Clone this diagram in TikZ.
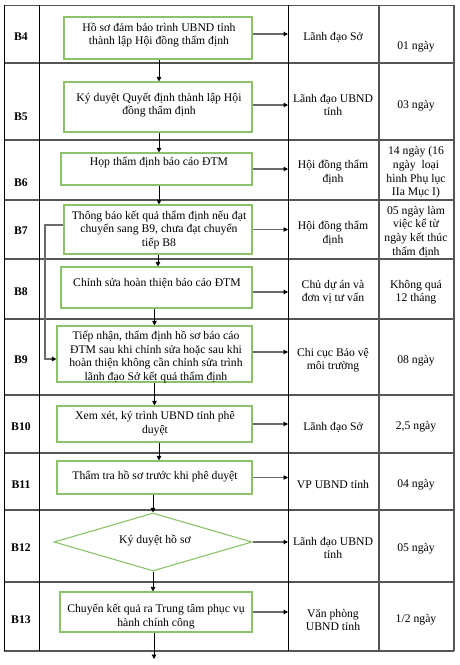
\documentclass[tikz,border=0pt]{standalone}
\usepackage{fontspec}
\setmainfont{Liberation Serif}
\usetikzlibrary{arrows.meta,shapes.geometric,calc}
\definecolor{boxgreen}{HTML}{8CC36A}
\definecolor{rowgray}{HTML}{555555}
\definecolor{arrgray}{HTML}{6A6A6A}
\begin{document}
\begin{tikzpicture}[x=1pt,y=-1pt,
  font=\fontsize{11.7}{13.6}\selectfont,
  stepbox/.style={draw=boxgreen,line width=1.1pt,rectangle,inner sep=0pt},
  txt/.style={align=center,inner sep=0pt},
  rowlbl/.style={font=\fontsize{11.7}{13.6}\selectfont\bfseries,inner sep=0pt},
  vline/.style={draw=black,line width=0.9pt},
  hline/.style={draw=rowgray,line width=1.3pt},
  varrow/.style={draw=black,line width=0.9pt,-{Triangle[length=4.5pt,width=4.5pt]}},
  harrow/.style={draw=arrgray,line width=1.4pt,-{Triangle[length=4.5pt,width=4.5pt,fill=black,color=black]}},
]
\useasboundingbox (0,0) rectangle (459,665);
% table
\foreach \y in {63,140,200,259,319,395,453,510,582}{\draw[hline] (4,\y) -- (454,\y);}
\draw[hline] (4,5.5) -- (454,5.5);
\draw[hline] (4,651) -- (454,651);
\draw[vline] (4,5) -- (4,651);
\draw[vline] (39,5) -- (39,651);
\draw[vline] (288,5) -- (288,651);
\draw[draw=rowgray,line width=1.3pt] (379,5) -- (379,651);
\draw[draw=rowgray,line width=1.3pt] (454,5) -- (454,651);
\coordinate (col3) at (288,0);

% row labels
\node[rowlbl] (r4) at (21,37) {B4};
\node[rowlbl] (r5) at (21,117) {B5};
\node[rowlbl] (r6) at (21,183) {B6};
\node[rowlbl] (r7) at (21,231) {B7};
\node[rowlbl] (r8) at (21,292) {B8};
\node[rowlbl] (r9) at (21,360) {B9};
\node[rowlbl] (r10) at (21,427) {B10};
\node[rowlbl] (r11) at (21,485) {B11};
\node[rowlbl] (r12) at (21,548) {B12};
\node[rowlbl] (r13) at (21,620) {B13};

% boxes
\node[stepbox,minimum width=188pt,minimum height=42pt] (b4) at (158,38) {};
\node[stepbox,minimum width=188pt,minimum height=50pt] (b5) at (158,107) {};
\node[stepbox,minimum width=191pt,minimum height=32pt] (b6) at (156.5,169) {};
\node[stepbox,minimum width=188pt,minimum height=49pt] (b7) at (158,229.5) {};
\node[stepbox,minimum width=191pt,minimum height=41pt] (b8) at (156.5,287.5) {};
\node[stepbox,minimum width=195pt,minimum height=56pt] (b9) at (154.5,354) {};
\node[stepbox,minimum width=195pt,minimum height=36pt] (b10) at (154.5,424) {};
\node[stepbox,minimum width=195pt,minimum height=33pt] (b11) at (154.5,477.5) {};
\node[draw=boxgreen,line width=1.1pt,diamond,inner sep=0pt,minimum width=198pt,minimum height=58pt] (b12) at (153,542) {};
\node[stepbox,minimum width=192pt,minimum height=40pt] (b13) at (156,612) {};

% box texts
\node[txt] (t4) at (159,35) {Hồ sơ đảm bảo trình UBND tỉnh\\thành lập Hội đồng thẩm định};
\node[txt] (t5) at (159,105) {Ký duyệt Quyết định thành lập Hội\\đồng thẩm định};
\node[txt] (t6) at (159,163) {Họp thẩm định báo cáo ĐTM};
\node[txt] (t7) at (159,230) {Thông báo kết quả thẩm định nếu đạt\\chuyển sang B9, chưa đạt chuyển\\tiếp B8};
\node[txt] (t8) at (157,283) {Chỉnh sửa hoàn thiện báo cáo ĐTM};
\node[txt] (t9) at (156,357) {Tiếp nhận, thẩm định hồ sơ báo cáo\\ĐTM sau khi chỉnh sửa hoặc sau khi\\hoàn thiện không cần chỉnh sửa trình\\lãnh đạo Sở kết quả thẩm định};
\node[txt] (t10) at (155,423.5) {Xem xét, ký trình UBND tỉnh phê\\duyệt};
\node[txt] (t11) at (155,477) {Thẩm tra hồ sơ trước khi phê duyệt};
\node[txt] (t12) at (155,541) {Ký duyệt hồ sơ};
\node[txt] (t13) at (156,616.5) {Chuyển kết quả ra Trung tâm phục vụ\\hành chính công};

% column 3
\node[txt] (c4) at (333,37) {Lãnh đạo Sở};
\node[txt] (c5) at (333,105) {Lãnh đạo UBND\\tỉnh};
\node[txt] (c6) at (333,172) {Hội đồng thẩm\\định};
\node[txt] (c7) at (333,233) {Hội đồng thẩm\\định};
\node[txt] (c8) at (333,292) {Chủ dự án và\\đơn vị tư vấn};
\node[txt] (c9) at (333,360) {Chi cục Bảo vệ\\môi trường};
\node[txt] (c10) at (333,427) {Lãnh đạo Sở};
\node[txt] (c11) at (333,485) {VP UBND tỉnh};
\node[txt] (c12) at (333,548) {Lãnh đạo UBND\\tỉnh};
\node[txt] (c13) at (333,620) {Văn phòng\\UBND tỉnh};

% column 4
\node[txt] (d4) at (416,47) {01 ngày};
\node[txt] (d5) at (416,106) {03 ngày};
\node[txt] (d6) at (416,172.5) {14 ngày (16\\ngày\ \ loại\\hình Phụ lục\\IIa Mục I)};
\node[txt] (d7) at (416,231.5) {05 ngày làm\\việc kể từ\\ngày kết thúc\\thẩm định};
\node[txt] (d8) at (416,292) {Không quá\\12 tháng};
\node[txt] (d9) at (416,361) {08 ngày};
\node[txt] (d10) at (416,427) {2,5 ngày};
\node[txt] (d11) at (416,485) {04 ngày};
\node[txt] (d12) at (416,549) {05 ngày};
\node[txt] (d13) at (416,620) {1/2 ngày};

% vertical arrows
\draw[varrow] ([xshift=1pt]b4.south) -- ([xshift=1pt]b4.south |- b5.north);
\draw[varrow] ([xshift=1pt]b5.south) -- ([xshift=1pt]b5.south |- b6.north);
\draw[varrow] ([xshift=2.5pt]b6.south) -- ([xshift=2.5pt]b6.south |- b7.north);
\draw[varrow] (b7.south) -- (b7.south |- b8.north);
\draw[varrow] (b8.south -| b9.north) -- (b9.north);
\draw[varrow] (b9.south) -- (b10.north);
\draw[varrow] ([xshift=4.5pt]b10.south) -- ([xshift=4.5pt]b10.south |- b11.north);
\draw[varrow] (b11.south -| b12.north) -- (b12.north);
\draw[varrow] (b12.south) -- (b12.south |- b13.north);
\coordinate (endpt) at (154,659);
\draw[varrow] (b13.south -| endpt) -- (endpt);

% horizontal arrows
\draw[harrow] ([yshift=4pt]b4.east) -- ([yshift=4pt]b4.east -| col3);
\draw[harrow] ([yshift=2pt]b5.east) -- ([yshift=2pt]b5.east -| col3);
\draw[harrow] (b6.east) -- (b6.east -| col3);
\draw[harrow] (b7.east) -- (b7.east -| col3);
\draw[harrow] ([yshift=-4.5pt]b8.east) -- ([yshift=-4.5pt]b8.east -| col3);
\draw[harrow] ([yshift=2pt]b9.east) -- ([yshift=2pt]b9.east -| col3);
\draw[harrow] (b10.east) -- (b10.east -| col3);
\draw[harrow] (b11.east) -- (b11.east -| col3);
\draw[harrow] (b12.east) -- (b12.east -| col3);
\draw[harrow] (b13.east) -- (b13.east -| col3);

% loop B7 -> B9
\coordinate (loopx) at (45,0);
\draw[harrow,line width=1.2pt] ([yshift=4.5pt]b7.west) -- ([yshift=4.5pt]b7.west -| loopx) |- ([yshift=-5pt]b9.west);
\end{tikzpicture}
\end{document}
